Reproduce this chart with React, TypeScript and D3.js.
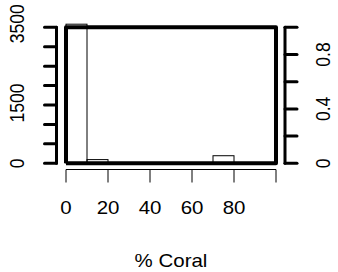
import React from "react";
import * as d3 from "d3";

const binStarts = [0, 10, 20, 30, 40, 50, 60, 70, 80, 90];
const binCounts = [3580, 95, 0, 0, 0, 0, 0, 195, 0, 0];
const overlayX = [0, 0, 100, 100, 0];
const overlayY = [0, 1, 1, 0, 0];
const xTicks = [0, 20, 40, 60, 80, 100];
const xTickLabels = ["0", "20", "40", "60", "80", ""];
const leftTicks = [0, 500, 1000, 1500, 2000, 2500, 3000, 3500];
const leftTickLabels = ["0", "", "", "1500", "", "", "", "3500"];
const rightTicks = [0, 0.2, 0.4, 0.6, 0.8, 1.0];
const rightTickLabels = ["0", "", "0.4", "", "0.8", ""];
const xTitle = "% Coral";

export default function App() {
  const W = 338, H = 272;
  const x = d3.scaleLinear().domain([0, 100]).range([66, 276]);
  const yL = d3.scaleLinear().domain([0, 3500]).range([163.3, 27.3]);
  const yR = d3.scaleLinear().domain([0, 1]).range([163.3, 27.3]);
  const line = d3.line<number>().x((_, i) => x(overlayX[i])).y((_, i) => yR(overlayY[i]));
  const font = "'Liberation Sans', Arial, Helvetica, sans-serif";
  const fs = 17.5;
  const sx = 1.17;
  const axisY = 169.5;
  const leftX = 56.5;
  const rightX = 285;
  const leftShift = (t: number) => (t === 0 ? 0 : -(t / 3500) * 2.5 - 1);
  return (
    <svg width={W} height={H} style={{ position: "absolute", left: 0, top: 0, background: "#fff" }}
      fontFamily={font} fontSize={fs}>
      {binStarts.map((b, i) => (
        <rect key={i} x={x(b)} y={yL(binCounts[i])} width={x(b + 10) - x(b)}
          height={yL(0) - yL(binCounts[i])} fill="none" stroke="#000" strokeWidth={1} />
      ))}
      <path d={line(overlayX) || ""} fill="none" stroke="#000" strokeWidth={4} strokeLinejoin="round" />
      {/* x axis */}
      <line x1={x(0)} x2={x(100)} y1={axisY} y2={axisY} stroke="#000" strokeWidth={1} />
      {xTicks.map((t, i) => (
        <g key={i}>
          <line x1={x(t)} x2={x(t)} y1={axisY} y2={axisY + 13} stroke="#000" strokeWidth={1} />
          <text transform={`translate(${x(t)},208) scale(${sx},1)`} textAnchor="middle" dominantBaseline="central">{xTickLabels[i]}</text>
        </g>
      ))}
      <text transform={`translate(171,261) scale(${sx},1)`} textAnchor="middle" dominantBaseline="central">{xTitle}</text>
      {/* left axis */}
      <line x1={leftX} x2={leftX} y1={yL(0)} y2={yL(3500)} stroke="#000" strokeWidth={3} strokeLinecap="round" />
      {leftTicks.map((t, i) => (
        <g key={i}>
          <line x1={leftX} x2={leftX - 12} y1={yL(t)} y2={yL(t)} stroke="#000" strokeWidth={3} strokeLinecap="round" />
          <text transform={`translate(17.5,${yL(t) + leftShift(t)}) scale(${sx},1) rotate(-90)`} textAnchor="middle" dominantBaseline="central">{leftTickLabels[i]}</text>
        </g>
      ))}
      {/* right axis */}
      <line x1={rightX} x2={rightX} y1={yR(0)} y2={yR(1)} stroke="#000" strokeWidth={3} strokeLinecap="round" />
      {rightTicks.map((t, i) => (
        <g key={i}>
          <line x1={rightX} x2={rightX + 12} y1={yR(t)} y2={yR(t)} stroke="#000" strokeWidth={3} strokeLinecap="round" />
          <text transform={`translate(323,${yR(t)}) scale(${sx},1) rotate(-90)`} textAnchor="middle" dominantBaseline="central">{rightTickLabels[i]}</text>
        </g>
      ))}
    </svg>
  );
}
